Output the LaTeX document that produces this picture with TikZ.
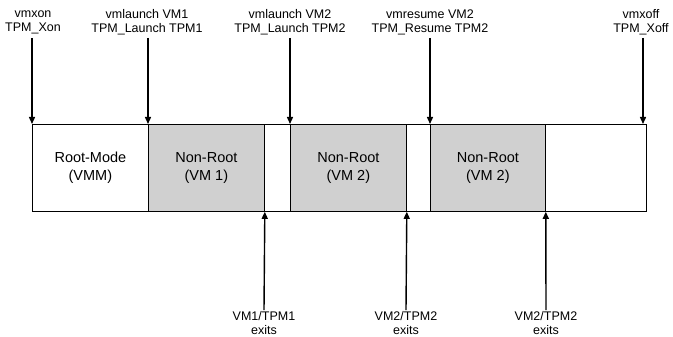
\documentclass[tikz,border=0pt]{standalone}
\usepackage{fontspec}
\setmainfont{Liberation Sans}
\usetikzlibrary{arrows.meta}
\begin{document}
\begin{tikzpicture}[x=1pt,y=-1pt,
  seg/.style={draw=black, line width=0.8pt, anchor=north west, minimum height=87pt, inner sep=0pt, align=center, font=\fontsize{14.5}{18}\selectfont},
  vm/.style={seg, fill={rgb,255:red,208;green,208;blue,208}},
  lbl/.style={align=center, inner sep=1pt, font=\fontsize{12.5}{14}\selectfont},
  arr/.style={line width=1.4pt, -{Triangle[width=6pt,length=7pt]}, shorten >=0pt}]
\useasboundingbox (0,0) rectangle (673,337);
% segments
\node[seg, minimum width=116pt] (root) at (32,124) {Root-Mode\\(VMM)};
\node[vm, minimum width=116pt] (vma) at (148,124) {Non-Root\\(VM 1)};
\node[seg, minimum width=26pt] (g1) at (264,124) {};
\node[vm, minimum width=116pt] (vmb) at (290,124) {Non-Root\\(VM 2)};
\node[seg, minimum width=24pt] (g2) at (406,124) {};
\node[vm, minimum width=115pt] (vmc) at (430,124) {Non-Root\\(VM 2)};
\node[seg, minimum width=101pt] (g3) at (545,124) {};
% top labels
\node[lbl] (t1) at (33,22) {vmxon\\TPM\_Xon};
\node[lbl] (t2) at (147,22) {vmlaunch VM1\\TPM\_Launch TPM1};
\node[lbl] (t3) at (290,22) {vmlaunch VM2\\TPM\_Launch TPM2};
\node[lbl] (t4) at (430,22) {vmresume VM2\\TPM\_Resume TPM2};
\node[lbl] (t5) at (641,22) {vmxoff\\TPM\_Xoff};
% bottom labels
\node[lbl] (b1) at (264,323) {VM1/TPM1\\exits};
\node[lbl] (b2) at (406,323) {VM2/TPM2\\exits};
\node[lbl] (b3) at (546,323) {VM2/TPM2\\exits};
% arrow end points
\coordinate (s1) at (32,38);
\coordinate (s2) at (148,38);
\coordinate (s3) at (290,38);
\coordinate (s4) at (430,38);
\coordinate (s5) at (643,38);
\coordinate (e1) at (root.north west);
\coordinate (e2) at (vma.north west);
\coordinate (e3) at (vmb.north west);
\coordinate (e4) at (vmc.north west);
\coordinate (e5) at (643,124);
\coordinate (f1) at (vma.south east);
\coordinate (f2) at (vmb.south east);
\coordinate (f3) at (vmc.south east);
\draw[arr] (s1) -- (e1);
\draw[arr] (s2) -- (e2);
\draw[arr] (s3) -- (e3);
\draw[arr] (s4) -- (e4);
\draw[arr] (s5) -- (e5);
\draw[arr] (b1.north) -- (f1);
\draw[arr] (b2.north) -- (f2);
\draw[arr] (b3.north) -- (f3);
\end{tikzpicture}
\end{document}
